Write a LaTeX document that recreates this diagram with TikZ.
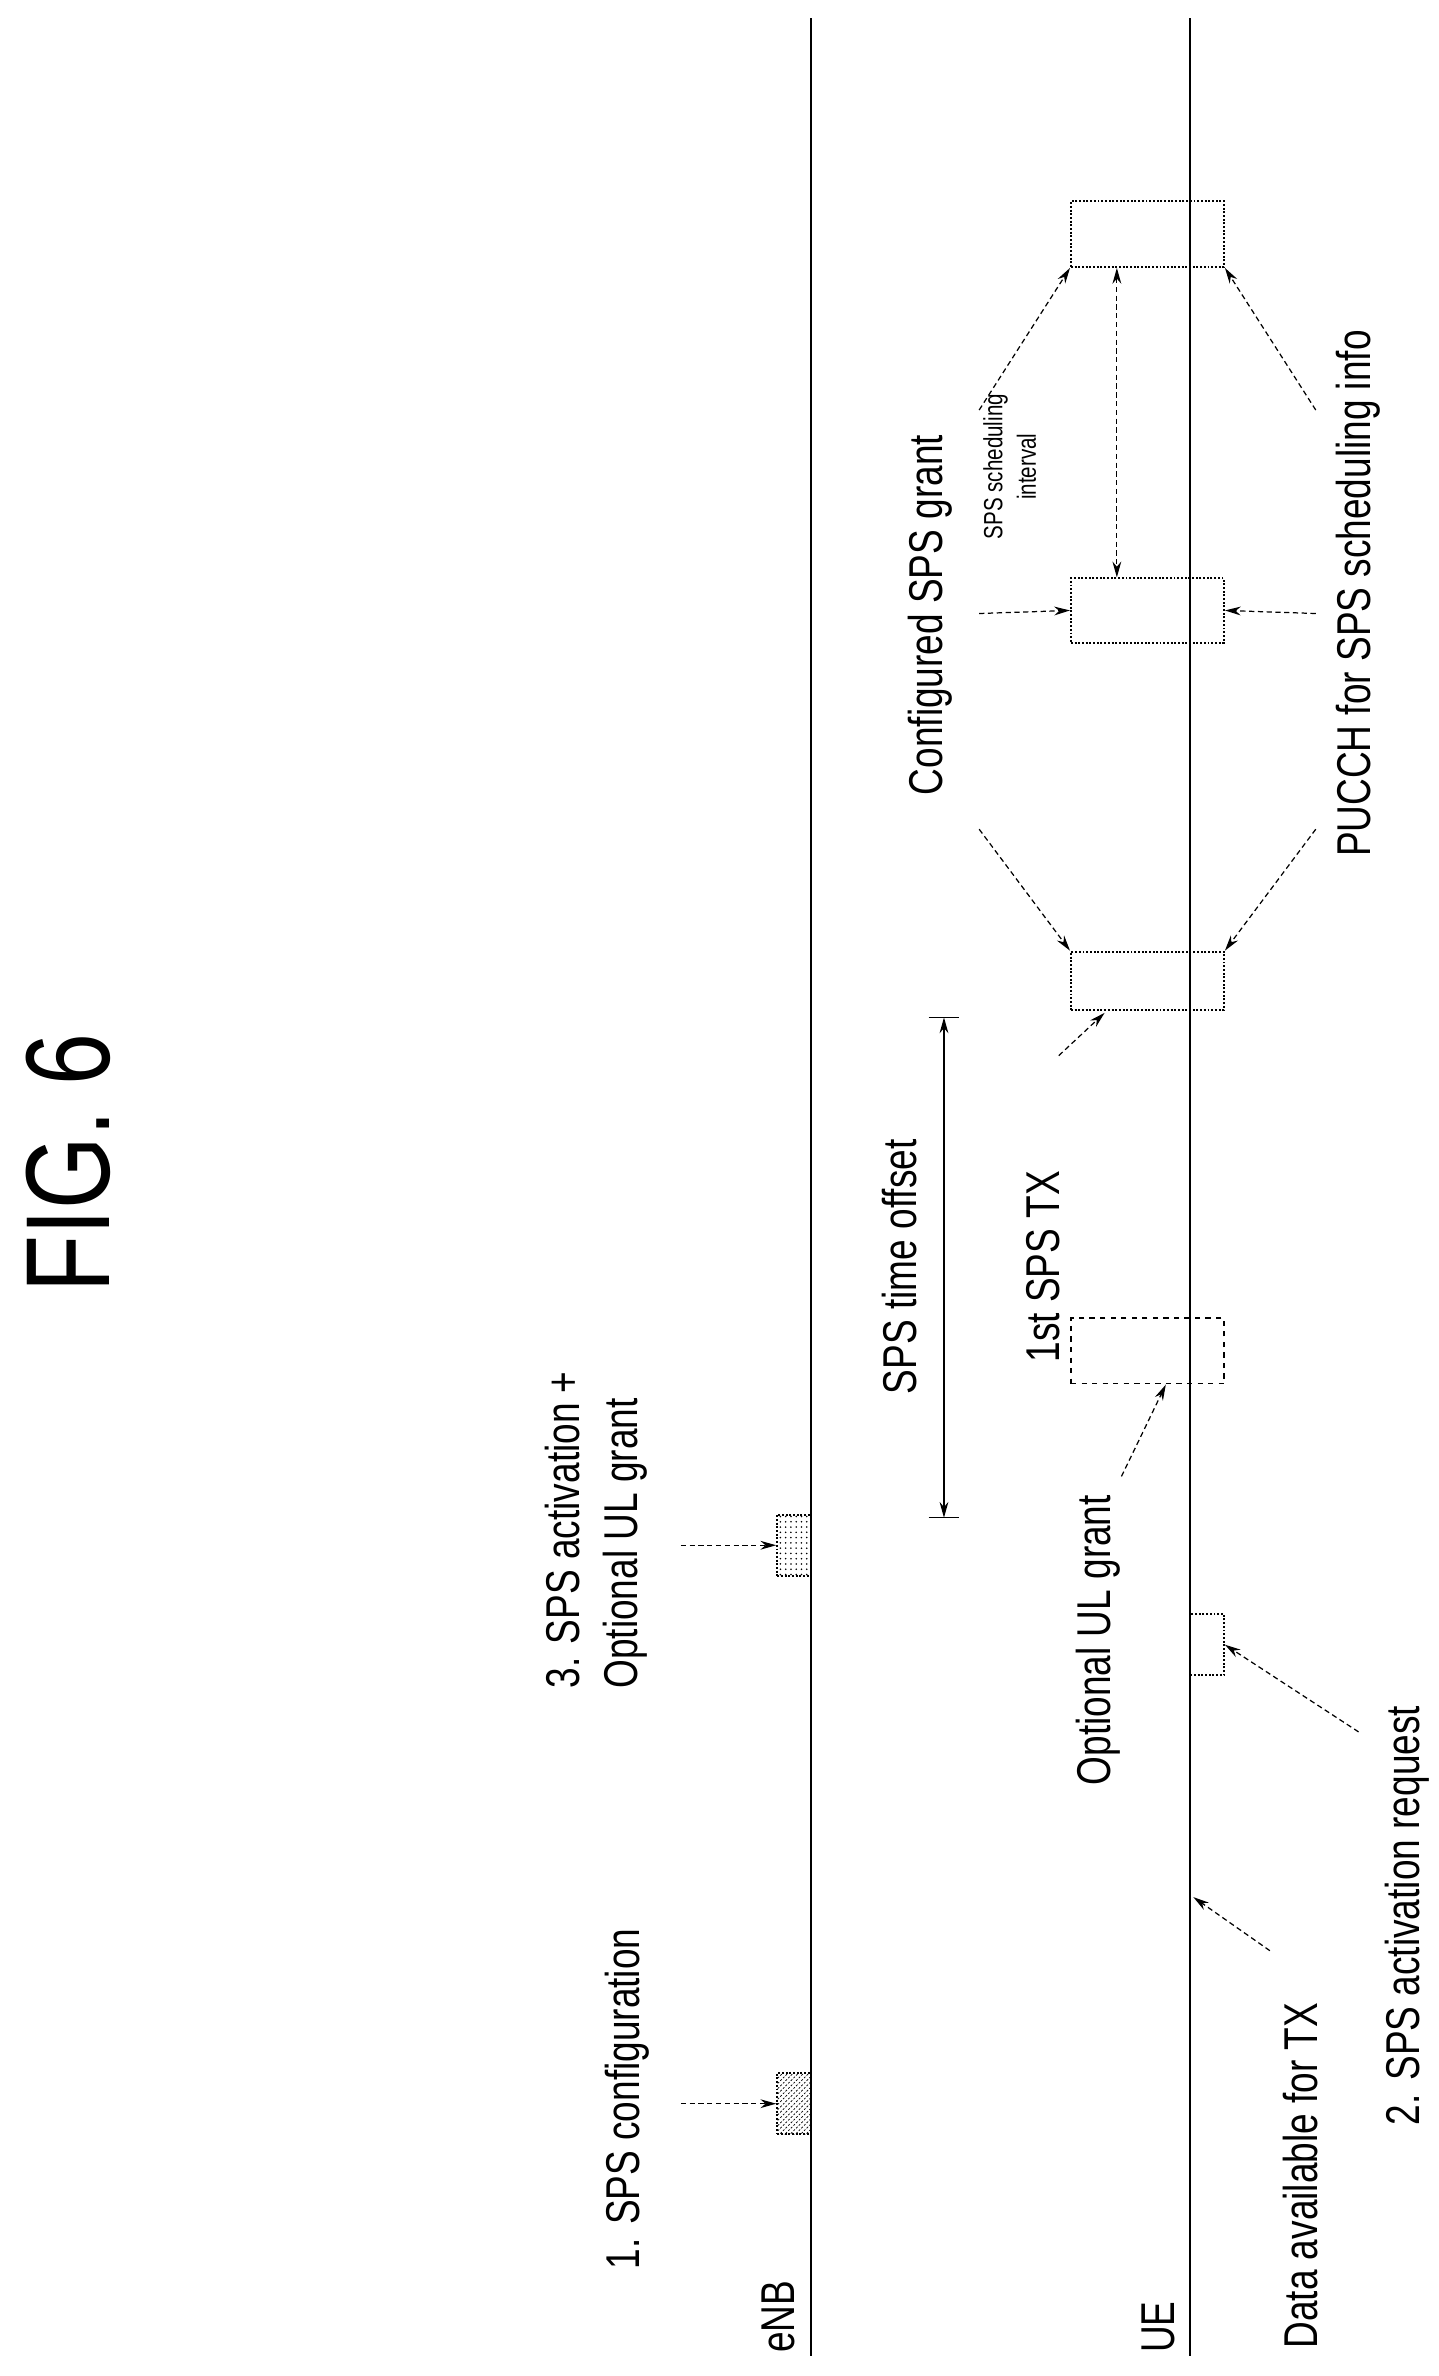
\documentclass[tikz,border=0pt]{standalone}
\usepackage{fontspec}
\setmainfont[FakeStretch=0.78]{Liberation Sans}
\usetikzlibrary{arrows.meta,patterns}
\begin{document}
\begin{tikzpicture}[x=0.0306cm,y=-0.0306cm,
  lab/.style={rotate=90,font=\fontsize{27}{33}\selectfont,inner sep=0pt},
  small/.style={rotate=90,font=\fontsize{15}{19}\selectfont,inner sep=0pt,align=center},
  line/.style={line width=1.1pt},
  box/.style={draw,densely dotted,line width=1.1pt,inner sep=0pt,rectangle},
  arr/.style={densely dashed,line width=0.7pt,-{Stealth[length=9pt,width=5pt]}},
]
\useasboundingbox (0,0) rectangle (940,1553);
\node[rotate=90,font=\fontsize{68}{80}\selectfont] (fig) at (45,760) {FIG. 6};
% lines
\coordinate (e0) at (530,12); \coordinate (e1) at (530,1540);
\coordinate (u0) at (778,12); \coordinate (u1) at (778,1540);
\draw[line] (e0) -- (e1);
\draw[line] (u0) -- (u1);
\node[lab,anchor=south west] (enb) at (520,1538) {eNB};
\node[lab,anchor=south west] (ue) at (768,1538) {UE};
% eNB boxes
\node[box,pattern=north east lines,minimum width=22*0.0306cm,minimum height=40*0.0306cm] (cfg) at (519,1375) {};
\node[box,pattern=dots,minimum width=22*0.0306cm,minimum height=40*0.0306cm] (act) at (519,1010) {};
\node[lab] (cfgL) at (410,1372) {1. SPS configuration};
\node[lab,align=left] (actL) at (390,1000) {3. SPS activation +\\Optional UL grant};
\coordinate (cfgS) at (445,1375); \coordinate (actS) at (445,1010);
\draw[arr] (cfgS) -- (cfg.west);
\draw[arr] (actS) -- (act.west);
% UE boxes
\node[box,minimum width=22*0.0306cm,minimum height=40*0.0306cm] (req) at (789,1075) {};
\node[box,dashed,line width=0.7pt,minimum width=100*0.0306cm,minimum height=43*0.0306cm] (opt) at (750,883) {};
\node[box,minimum width=100*0.0306cm,minimum height=38*0.0306cm] (b1) at (750,641) {};
\node[box,minimum width=100*0.0306cm,minimum height=42*0.0306cm] (b2) at (750,399) {};
\node[box,minimum width=100*0.0306cm,minimum height=43*0.0306cm] (b3) at (750,153) {};
% time offset
\coordinate (t0) at (617,992); \coordinate (t1) at (617,665);
\draw[line width=0.7pt,{Stealth[length=9pt,width=5pt]}-{Stealth[length=9pt,width=5pt]}] (t0) -- (t1);
\draw[line width=0.7pt] (607,992) -- (627,992) (607,665) -- (627,665);
\node[lab] (toL) at (588,828) {SPS time offset};
% labels UE side
\node[lab] (optL) at (718,1072) {Optional UL grant};
\coordinate (optS) at (733,965);
\draw[arr] (optS) -- (762,905);
\node[lab] (txL) at (682,828) {1st SPS TX};
\coordinate (txS) at (692,690);
\draw[arr] (txS) -- (722,662);
\node[lab] (cfgG) at (608,402) {Configured SPS grant};
\coordinate (g1) at (640,542); \coordinate (g2) at (640,401); \coordinate (g3) at (640,268);
\draw[arr] (g1) -- (b1.north west);
\draw[arr] (g2) -- (b2.west);
\draw[arr] (g3) -- (b3.south west);
\node[lab] (pucL) at (888,388) {PUCCH for SPS scheduling info};
\coordinate (p1) at (860,542); \coordinate (p2) at (860,401); \coordinate (p3) at (860,268);
\draw[arr] (p1) -- (b1.north east);
\draw[arr] (p2) -- (b2.east);
\draw[arr] (p3) -- (b3.south east);
\draw[line width=0.7pt,densely dashed,{Stealth[length=9pt,width=5pt]}-{Stealth[length=9pt,width=5pt]}] (b3.south -| 730,0) -- (b2.north -| 730,0);
\node[small] (intL) at (660,305) {SPS scheduling\\interval};
\node[lab] (dataL) at (850,1422) {Data available for TX};
\coordinate (dS) at (830,1275); \coordinate (dT) at (780,1240);
\draw[arr] (dS) -- (dT);
\node[lab] (reqL) at (920,1252) {2. SPS activation request};
\coordinate (rS) at (888,1132);
\draw[arr] (rS) -- (req.east);
\end{tikzpicture}
\end{document}
